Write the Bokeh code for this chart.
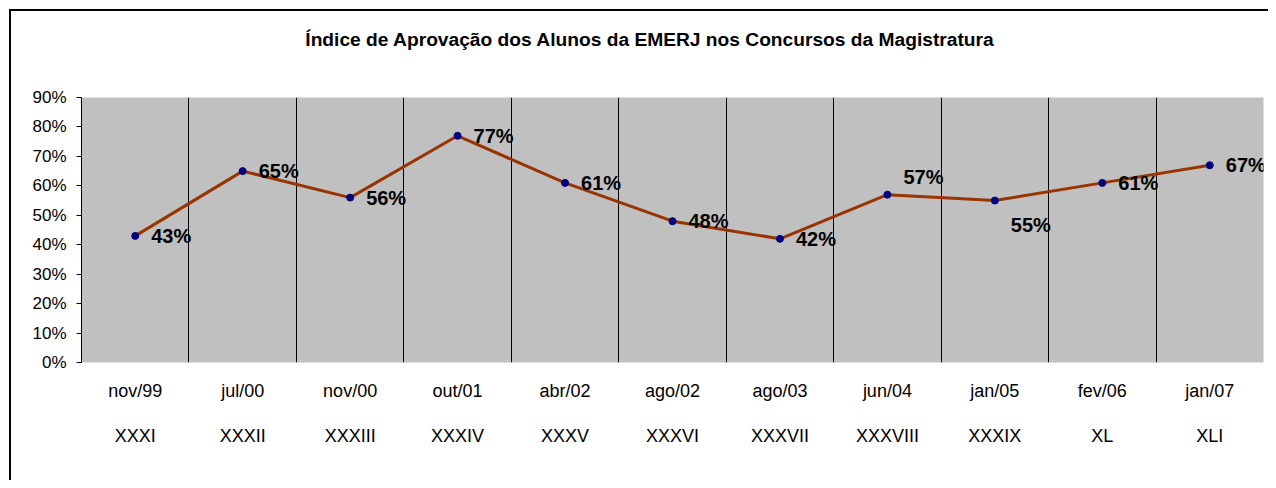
from bokeh.plotting import figure
from bokeh.models import (ColumnDataSource, Range1d, FixedTicker, LinearAxis,
                          LabelSet, PrintfTickFormatter, Div)
from bokeh.layouts import column
from bokeh.core.properties import value
from bokeh.embed import file_html
from bokeh.resources import INLINE

# ---- data ----
title_text = "Índice de Aprovação dos Alunos da EMERJ nos Concursos da Magistratura"
dates = ["nov/99", "jul/00", "nov/00", "out/01", "abr/02", "ago/02",
         "ago/03", "jun/04", "jan/05", "fev/06", "jan/07"]
contests = ["XXXI", "XXXII", "XXXIII", "XXXIV", "XXXV", "XXXVI",
            "XXXVII", "XXXVIII", "XXXIX", "XL", "XLI"]
approval = [43, 65, 56, 77, 61, 48, 42, 57, 55, 61, 67]
y_ticks = [0, 10, 20, 30, 40, 50, 60, 70, 80, 90]

# label vertical nudges (px, up positive) — styling only
label_dy = [0, 0, 0, 0, 0, 0, 0, 18, -24, 0, 0]

FONT = "Liberation Sans"
LINE_COLOR = "#993300"
MARKER_COLOR = "#000080"
W = 1268

xs = list(range(1, len(dates) + 1))
source = ColumnDataSource(dict(
    x=xs,
    y=approval,
    label=[f"{v}%" for v in approval],
    dy=label_dy,
))

title_div = Div(
    text=(f'<div style="box-sizing:border-box;width:{W}px;padding-left:31px;'
          f'text-align:center;line-height:80px;height:80px;white-space:nowrap;'
          f'font-family:\'{FONT}\';font-size:19.2px;font-weight:bold;color:black;">'
          f'{title_text}</div>'),
    width=W, height=80, margin=0)

p = figure(width=W, height=400, output_backend="svg", toolbar_location=None,
           x_range=Range1d(0.5, len(dates) + 0.5), y_range=Range1d(0, 90),
           min_border_left=81, min_border_top=17, min_border_right=5,
           min_border_bottom=118, x_axis_location=None, margin=0)

p.background_fill_color = "#C0C0C0"
p.border_fill_color = None
p.outline_line_color = None

# vertical separators between categories
p.xgrid.ticker = FixedTicker(ticks=[x + 0.5 for x in xs[:-1]])
p.xgrid.grid_line_color = "black"
p.xgrid.grid_line_width = 1
p.ygrid.visible = False

# y axis
p.yaxis.ticker = FixedTicker(ticks=y_ticks)
p.yaxis.formatter = PrintfTickFormatter(format="%d%%")
p.yaxis.axis_line_color = "black"
p.yaxis.major_tick_line_color = "black"
p.yaxis.major_tick_out = 5
p.yaxis.major_tick_in = 0
p.yaxis.minor_tick_line_color = None
p.yaxis.major_label_text_font = FONT
p.yaxis.major_label_text_font_size = "17px"
p.yaxis.major_label_text_color = "black"
p.yaxis.major_label_standoff = 10

# two x axes: dates and contest numbers
def make_xaxis(labels, standoff):
    ax = LinearAxis(ticker=FixedTicker(ticks=xs),
                    major_label_overrides={x: t for x, t in zip(xs, labels)})
    ax.axis_line_color = None
    ax.major_tick_line_color = None
    ax.minor_tick_line_color = None
    ax.major_tick_out = 0
    ax.major_tick_in = 0
    ax.major_label_text_font = FONT
    ax.major_label_text_font_size = "18px"
    ax.major_label_text_color = "black"
    ax.major_label_standoff = standoff
    return ax

p.add_layout(make_xaxis(dates, 18), "below")
p.add_layout(make_xaxis(contests, 22), "below")

# series
p.line("x", "y", source=source, line_color=LINE_COLOR, line_width=3)
p.scatter("x", "y", source=source, size=7, fill_color=MARKER_COLOR,
          line_color=MARKER_COLOR)

labels = LabelSet(x="x", y="y", text="label", source=source, x_offset=16,
                  y_offset="dy", text_baseline="middle", text_align="left",
                  text_font=value(FONT), text_font_size=value("20px"),
                  text_font_style="bold", text_color="black")
p.add_layout(labels)

layout = column(title_div, p, spacing=0)
layout.styles = {
    "background-color": "white",
    "background-image": "linear-gradient(#000,#000), linear-gradient(#000,#000)",
    "background-size": "2px 100%, 100% 2px",
    "background-position": "9px 9px, 9px 9px",
    "background-repeat": "no-repeat",
}

open("out.html", "w").write(file_html(layout, INLINE))
